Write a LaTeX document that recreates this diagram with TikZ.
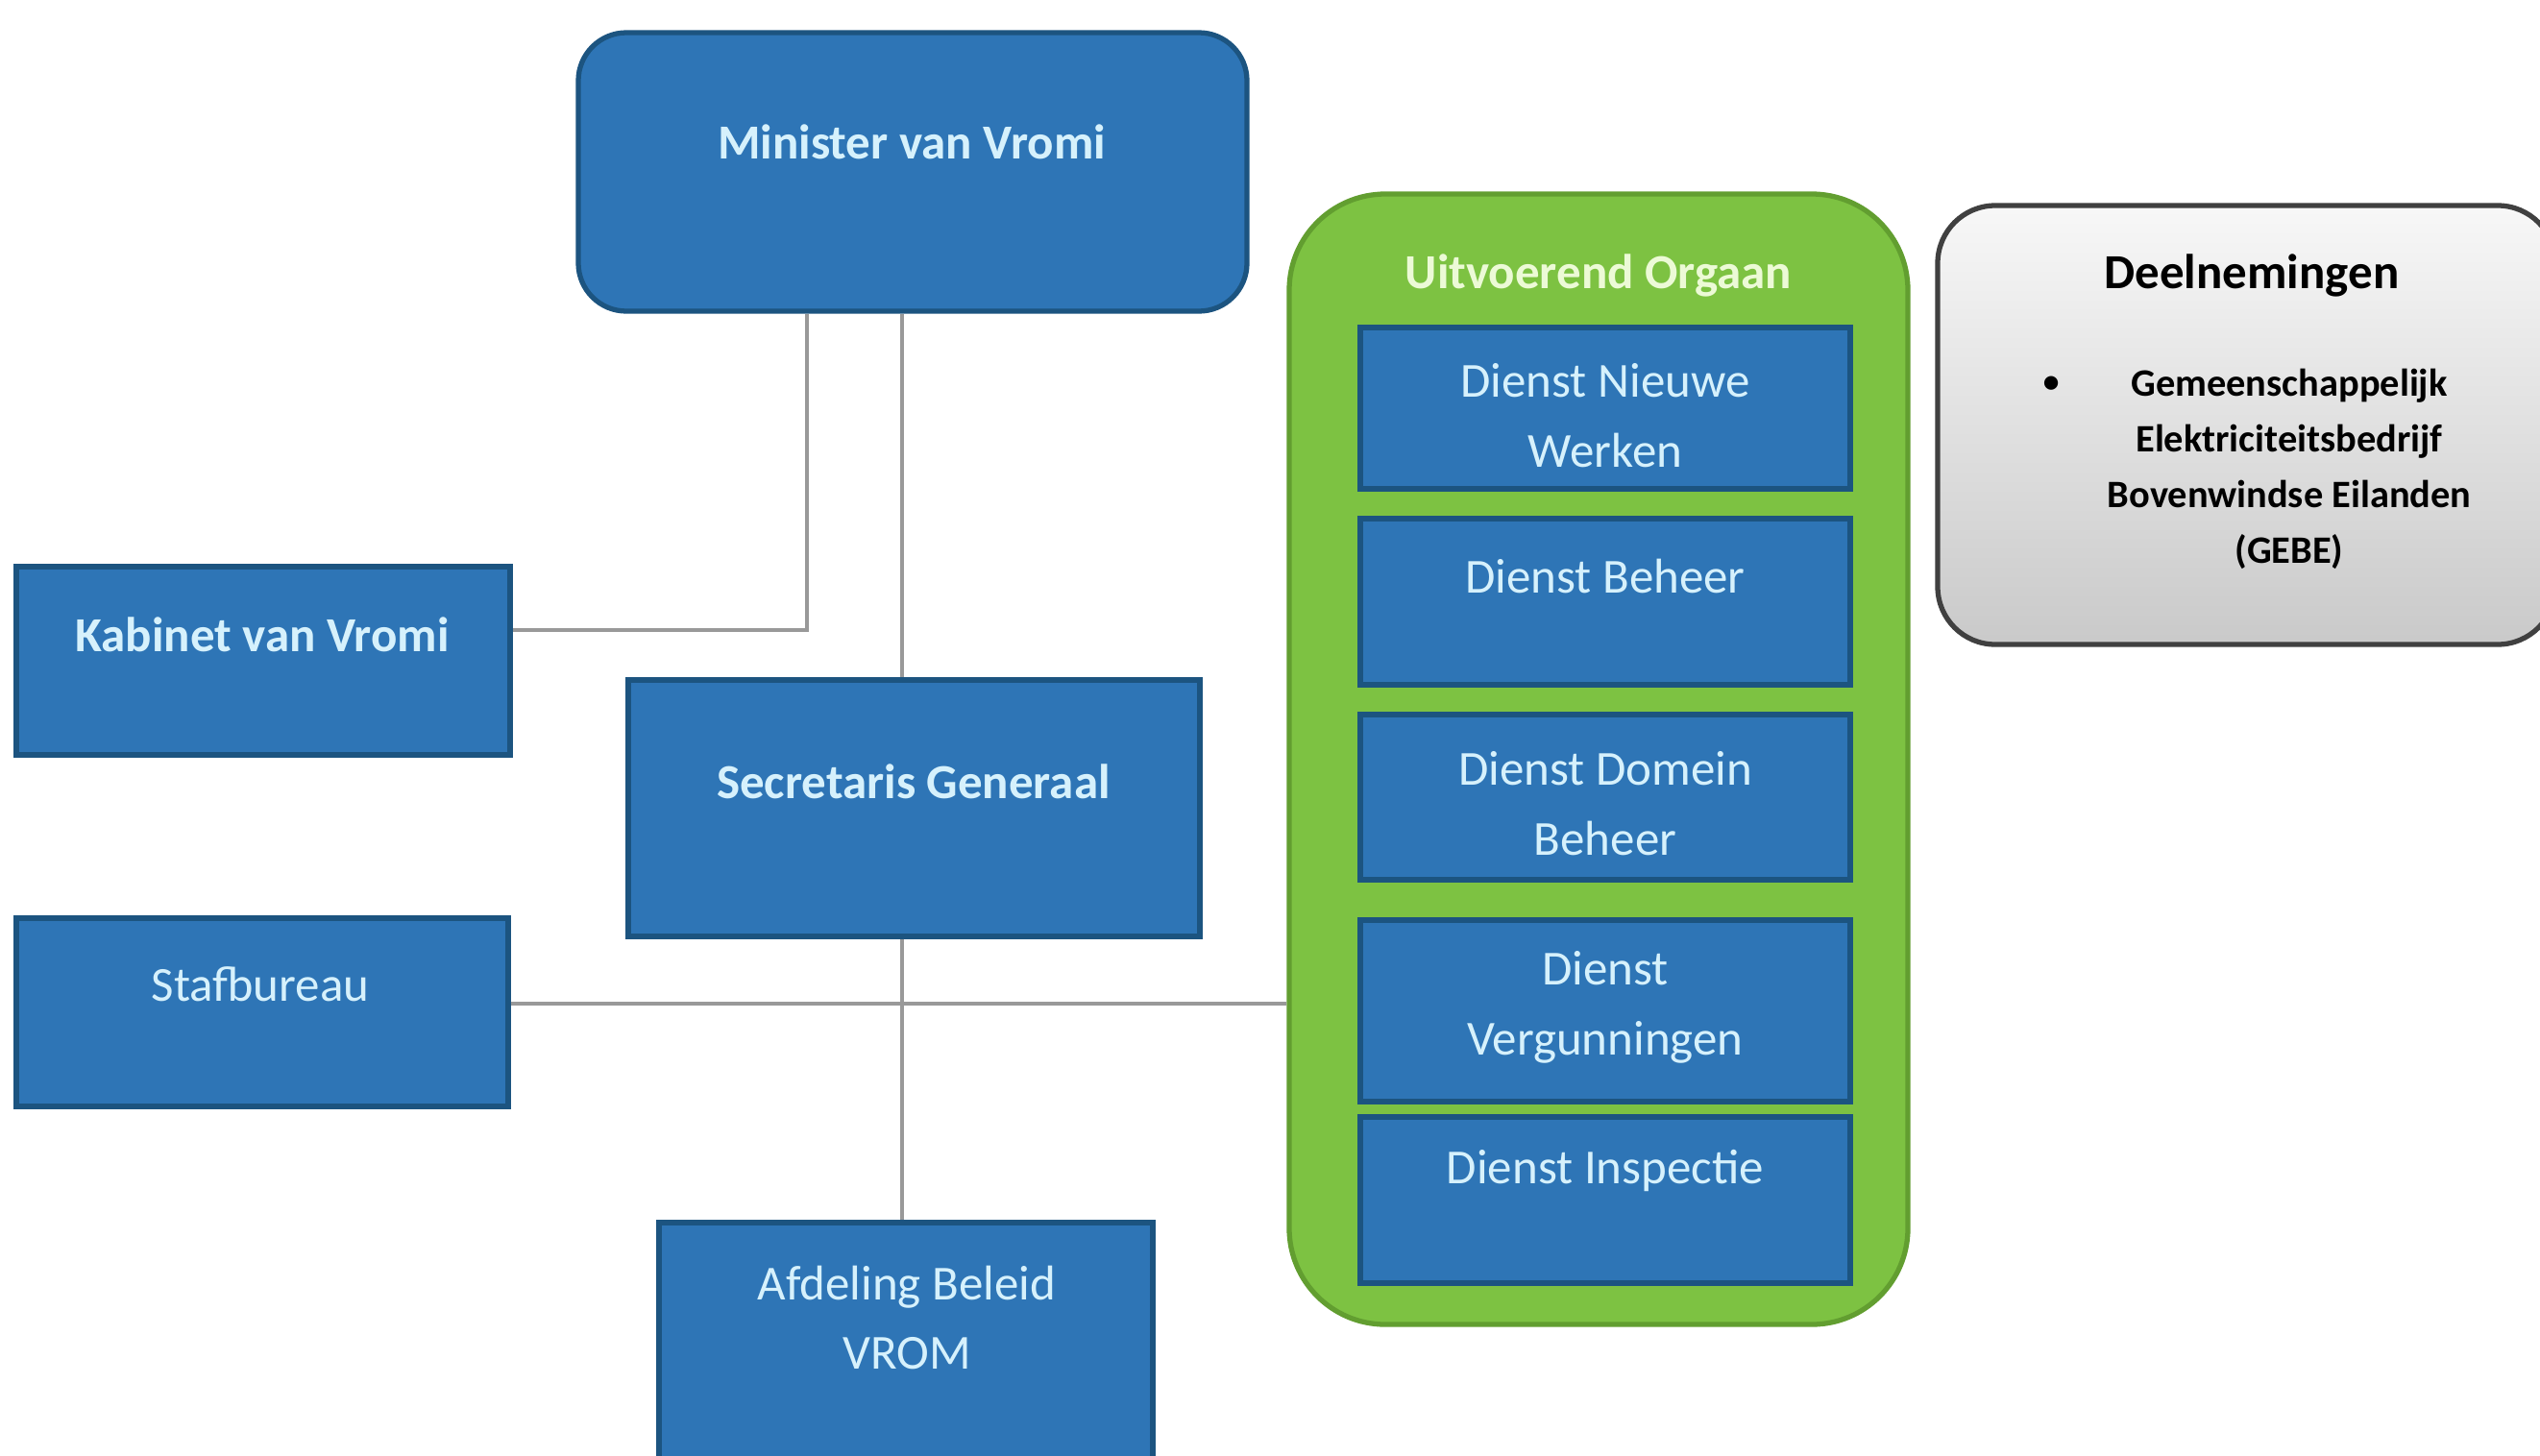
\documentclass[tikz,border=0pt]{standalone}
\usepackage{fontspec}
\setmainfont{Carlito}
\usetikzlibrary{positioning}

\definecolor{boxblue}{RGB}{46,117,182}
\definecolor{boxedge}{RGB}{28,84,128}
\definecolor{orgreen}{RGB}{125,194,66}
\definecolor{oredge}{RGB}{98,158,48}
\definecolor{boxtext}{RGB}{214,241,252}
\definecolor{orgtext}{RGB}{236,250,214}

\tikzstyle{bluebox}=[draw=boxedge, fill=boxblue, line width=1.5pt, inner sep=0pt]
\tikzstyle{lbl}=[text=boxtext, font=\fontsize{14.5}{20.7}\selectfont, align=center, inner sep=0pt]
\tikzstyle{boldlbl}=[lbl, font=\fontsize{14.5}{20.7}\selectfont\bfseries]
\tikzstyle{conn}=[draw=black!40, line width=0.9pt]

\begin{document}
\begin{tikzpicture}
  \clip (0,0) rectangle (26.44,-15.15);
  \fill[white] (0,0) rectangle (26.44,-15.15);

  % left column
  \node[bluebox, rounded corners=0.5cm, minimum width=6.96cm, minimum height=2.90cm] (minister) at (9.50,-1.79) {};
  \node[boldlbl] (minister-t) at (9.49,-1.48) {Minister van Vromi};
  \node[bluebox, minimum width=5.14cm, minimum height=1.96cm] (kabinet) at (2.74,-6.88) {};
  \node[boldlbl] (kabinet-t) at (2.73,-6.61) {Kabinet van Vromi};
  \node[bluebox, minimum width=5.95cm, minimum height=2.67cm] (secretaris) at (9.515,-8.415) {};
  \node[boldlbl] (secretaris-t) at (9.51,-8.14) {Secretaris Generaal};
  \node[bluebox, minimum width=5.12cm, minimum height=1.96cm] (stafbureau) at (2.73,-10.54) {};
  \node[lbl] (stafbureau-t) at (2.71,-10.25) {Stafbureau};
  \node[bluebox, minimum width=5.14cm, minimum height=3.00cm] (afdeling) at (9.43,-14.23) {};
  \node[lbl] (afdeling-t) at (9.44,-13.72) {Afdeling Beleid\\VROM};

  % uitvoerend orgaan
  \node[draw=oredge, fill=orgreen, line width=1.5pt, rounded corners=1cm,
        minimum width=6.44cm, minimum height=11.77cm] (orgaan) at (16.64,-7.905) {};
  \node[boldlbl, text=orgtext] (orgaan-t) at (16.64,-2.87) {Uitvoerend Orgaan};
  \foreach \yc/\bh/\yt/\txt [count=\i] in {
      -4.25/1.68/-4.33/{Dienst Nieuwe\\Werken},
      -6.265/1.73/-6.00/{Dienst Beheer},
      -8.30/1.72/-8.37/{Dienst Domein\\Beheer},
      -10.525/1.89/-10.49/{Dienst\\Vergunningen},
      -12.495/1.73/-12.19/{Dienst Inspectie}} {%
    \node[bluebox, minimum width=5.10cm, minimum height=\bh cm] (dienst\i) at (16.71,\yc) {};
    \node[lbl] (dienst\i-t) at (16.71,\yt) {\txt};
  }

  % deelnemingen
  \node[draw=black!75, line width=1.5pt, rounded corners=0.6cm, top color=gray!6, bottom color=gray!42,
        minimum width=6.43cm, minimum height=4.57cm] (deel) at (23.385,-4.425) {};
  \node[font=\fontsize{14.5}{17}\selectfont\bfseries] (deel-t) at (23.44,-2.87) {Deelnemingen};
  \node[font=\fontsize{11.5}{16.5}\selectfont\bfseries, align=center] (deel-b) at (23.83,-4.88)
    {Gemeenschappelijk\\Elektriciteitsbedrijf\\Bovenwindse Eilanden\\(GEBE)};
  \node[font=\fontsize{11.5}{16.5}\selectfont] (bullet) at (21.36,-4.01) {\textbullet};

  % lines
  \coordinate (kabjoin) at (8.40,-6.56);
  \coordinate (spine) at (9.39,-10.45);
  \draw[conn] (kabjoin |- minister.south) -- (kabjoin) -- (kabjoin -| kabinet.east);
  \draw[conn] (spine |- minister.south) -- (spine |- secretaris.north);
  \draw[conn] (spine |- secretaris.south) -- (spine |- afdeling.north);
  \draw[conn] (stafbureau.east |- spine) -- (spine -| orgaan.west);
\end{tikzpicture}
\end{document}
